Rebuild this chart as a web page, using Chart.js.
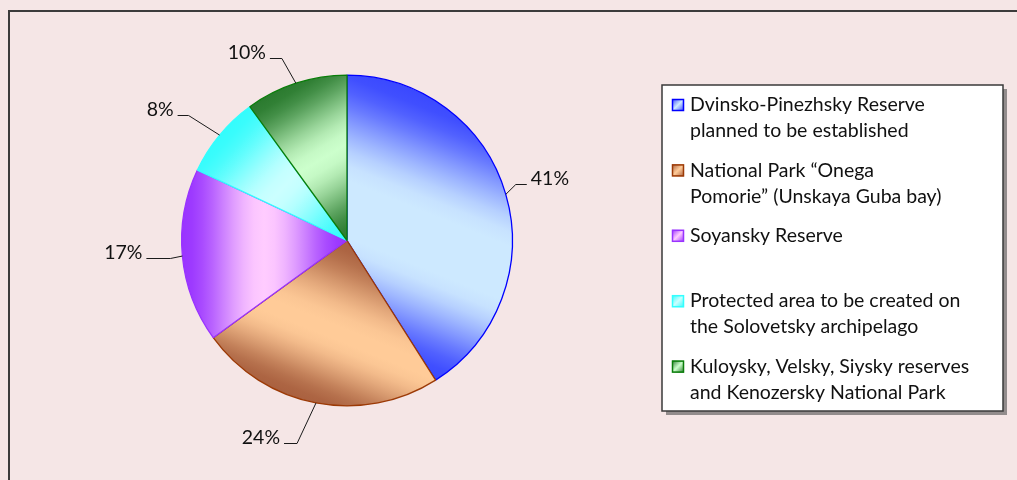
<!DOCTYPE html>
<html><head><meta charset="utf-8">
<script src="https://cdn.jsdelivr.net/npm/chart.js@4.4.1/dist/chart.umd.min.js"></script>
<style>html,body{margin:0;padding:0;background:#f5e6e6;overflow:hidden}canvas{display:block}</style>
</head><body>
<canvas id="c" width="1017" height="480"></canvas>
<script>
// ---- data ----
const categories = [
  ['Dvinsko-Pinezhsky Reserve', 'planned to be established'],
  ['National Park \u201cOnega', 'Pomorie\u201d (Unskaya Guba bay)'],
  ['Soyansky Reserve', ''],
  ['Protected area to be created on', 'the Solovetsky archipelago'],
  ['Kuloysky, Velsky, Siysky reserves', 'and Kenozersky National Park']
];
const shares = [41, 24, 17, 8, 10];

// ---- styles ----
const darkColors   = ['#3a48ff', '#a9603f', '#9933ff', '#33fcfc', '#2a7a2e'];
const lightColors  = ['#cde9ff', '#ffcb98', '#ffccff', '#cbffff', '#ccffcc'];
const borderColors = ['#0000ff', '#9c3a06', '#9933ff', '#33ffff', '#0a7d0a'];
const gradAngles   = [112, 112, 0, 223, 59];          // gradient axis, degrees (screen)
const gradStops    = [[0.42, 0.62], [0.5, 0.58], [0.5, 0.5], [0.5, 0.5], [0.5, 0.5]];
const elbowOffsets = [[10, -10], [-19, 40], [-12, 2], [-31, -20], [-14, -25]];
const tailLengths  = [11, 13, 24, 11, 12];
const FONT = 'Lato, "Open Sans", sans-serif';
const BG = '#f5e6e6';

function hexToRgb(h) { return [1, 3, 5].map(k => parseInt(h.substr(k, 2), 16)); }
function mix(a, b, t) {
  const A = hexToRgb(a), B = hexToRgb(b);
  return 'rgb(' + A.map((v, k) => Math.round(v + (B[k] - v) * t)).join(',') + ')';
}
const smooth = s => s * s * (3 - 2 * s);
function addSmoothStops(g, i) {
  const d = darkColors[i], l = lightColors[i];
  const [s0, s1] = gradStops[i];
  const N = 8;
  for (let k = 0; k <= N; k++) {
    const s = k / N;
    g.addColorStop(s0 * s, mix(d, l, smooth(s)));
  }
  for (let k = 0; k <= N; k++) {
    const s = k / N;
    g.addColorStop(s1 + (1 - s1) * s, mix(l, d, smooth(s)));
  }
}

function sliceGradient(ctx, cx, cy, r, a0, a1, i) {
  const th = gradAngles[i] * Math.PI / 180;
  const ux = Math.cos(th), uy = Math.sin(th);
  const pts = [[0, 0], [Math.cos(a0) * r, Math.sin(a0) * r], [Math.cos(a1) * r, Math.sin(a1) * r]];
  const norm = a => { let v = a; while (v < a0) v += 2 * Math.PI; while (v > a0 + 2 * Math.PI) v -= 2 * Math.PI; return v; };
  [th, th + Math.PI].forEach(t => {
    if (norm(t) <= a1) pts.push([Math.cos(t) * r, Math.sin(t) * r]);
  });
  let mn = Infinity, mx = -Infinity;
  pts.forEach(p => { const d = p[0] * ux + p[1] * uy; mn = Math.min(mn, d); mx = Math.max(mx, d); });
  const g = ctx.createLinearGradient(cx + ux * mn, cy + uy * mn, cx + ux * mx, cy + uy * mx);
  addSmoothStops(g, i);
  return g;
}

function bgColor(context) {
  const chart = context.chart;
  const i = context.dataIndex;
  const ca = chart.chartArea;
  if (!ca) return lightColors[i];
  const cx = (ca.left + ca.right) / 2, cy = (ca.top + ca.bottom) / 2;
  const r = (Math.min(ca.right - ca.left, ca.bottom - ca.top) - 1) / 2;
  const vals = chart.data.datasets[0].data;
  const total = vals.reduce((a, b) => a + b, 0);
  let acc = 0;
  for (let k = 0; k < i; k++) acc += vals[k];
  const a0 = -Math.PI / 2 + acc / total * 2 * Math.PI;
  const a1 = a0 + vals[i] / total * 2 * Math.PI;
  return sliceGradient(chart.ctx, cx, cy, r, a0, a1, i);
}

const framePlugin = {
  id: 'frame',
  beforeDraw(chart) {
    const c = chart.ctx;
    c.save();
    c.fillStyle = BG;
    c.fillRect(0, 0, chart.width, chart.height);
    c.strokeStyle = '#3c3c3c';
    c.lineWidth = 2;
    c.strokeRect(9, 11, chart.width + 40, chart.height + 40);
    c.restore();
  }
};

const labelPlugin = {
  id: 'leaders',
  afterDatasetsDraw(chart) {
    const c = chart.ctx;
    const meta = chart.getDatasetMeta(0);
    const vals = chart.data.datasets[0].data;
    const total = vals.reduce((a, b) => a + b, 0);
    c.save();
    c.strokeStyle = '#1a1a1a';
    c.lineWidth = 1;
    c.fillStyle = '#111';
    c.font = '19.5px ' + FONT;
    c.textBaseline = 'alphabetic';
    meta.data.forEach((el, i) => {
      const p = el.getProps(['x', 'y', 'startAngle', 'endAngle', 'outerRadius'], true);
      const mid = (p.startAngle + p.endAngle) / 2;
      const ax = p.x + Math.cos(mid) * p.outerRadius;
      const ay = p.y + Math.sin(mid) * p.outerRadius;
      const ex = ax + elbowOffsets[i][0];
      const ey = ay + elbowOffsets[i][1];
      const right = ex > p.x;
      const tx = right ? ex + tailLengths[i] : ex - tailLengths[i];
      c.beginPath();
      c.moveTo(ax, ay);
      c.lineTo(ex, Math.round(ey) + 0.5);
      c.lineTo(tx, Math.round(ey) + 0.5);
      c.stroke();
      const txt = Math.round(vals[i] / total * 100) + '%';
      c.textAlign = right ? 'left' : 'right';
      c.fillText(txt, right ? tx + 4 : tx - 4, Math.round(ey) + 1);
    });
    c.restore();
  }
};

const legendPlugin = {
  id: 'boxLegend',
  afterDraw(chart) {
    const c = chart.ctx;
    const x = 662, y = 85, w = 341, h = 326;
    c.save();
    c.fillStyle = 'rgba(80,80,80,0.6)';
    c.fillRect(x + 4, y + 4, w, h);
    c.fillStyle = '#ffffff';
    c.fillRect(x, y, w, h);
    c.strokeStyle = '#3a3a3a';
    c.lineWidth = 1.5;
    c.strokeRect(x, y, w, h);
    c.font = '19.5px ' + FONT;
    c.textBaseline = 'middle';
    c.textAlign = 'left';
    chart.data.labels.forEach((lines, i) => {
      const cyl = 105 + i * 65.4;
      const g = c.createLinearGradient(672, cyl - 6, 684, cyl + 6);
      g.addColorStop(0, darkColors[i]);
      g.addColorStop(0.5, lightColors[i]);
      g.addColorStop(1, darkColors[i]);
      c.fillStyle = g;
      c.fillRect(672, cyl - 6, 12, 12);
      c.strokeStyle = borderColors[i];
      c.lineWidth = 1.5;
      c.strokeRect(672.5, cyl - 5.5, 11, 11);
      c.fillStyle = '#111';
      lines.forEach((t, k) => c.fillText(t, 690, cyl + k * 26));
    });
    c.restore();
  }
};

new Chart(document.getElementById('c'), {
  type: 'pie',
  data: {
    labels: categories,
    datasets: [{
      data: shares,
      backgroundColor: bgColor,
      borderColor: borderColors,
      borderWidth: 1.3,
      hoverOffset: 0
    }]
  },
  options: {
    responsive: false,
    animation: false,
    devicePixelRatio: 1,
    layout: { padding: { left: 181, right: 504, top: 74, bottom: 73 } },
    plugins: { legend: { display: false }, tooltip: { enabled: false } }
  },
  plugins: [framePlugin, labelPlugin, legendPlugin]
});
</script>
</body></html>
